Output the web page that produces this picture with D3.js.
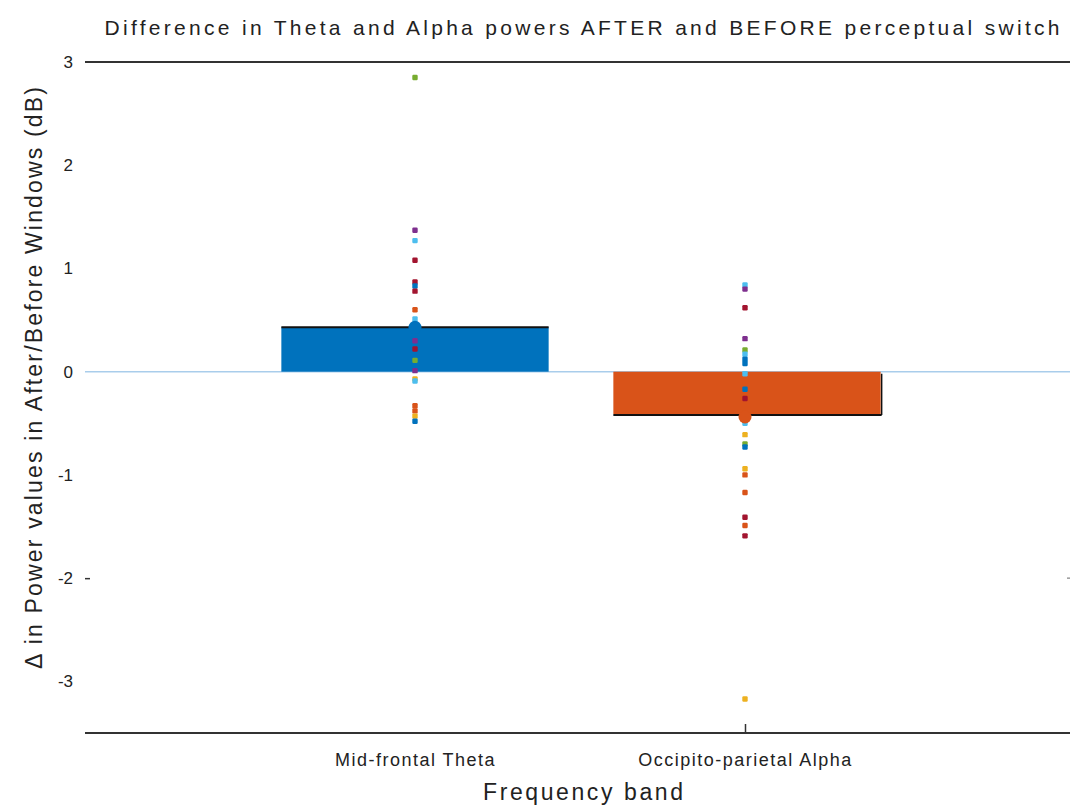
<!DOCTYPE html>
<html>
<head>
<meta charset="utf-8">
<script src="https://cdn.jsdelivr.net/npm/d3@7"></script>
<style>
  body { margin: 0; background: #fff; }
  text { font-family: "Liberation Sans", Arial, sans-serif; fill: #222; }
</style>
</head>
<body>
<svg id="chart"></svg>
<script>
// data
const categories = ["Mid-frontal Theta", "Occipito-parietal Alpha"];
const meanValues = [0.43, -0.41];
const yTicks = [-3, -2, -1, 0, 1, 2, 3];

// single subjects, with their subject index (colour in the cycle)
const thetaValues   = [2.85, 1.37, 1.27, 1.08, 0.87, 0.83, 0.78, 0.60, 0.51, 0.30, 0.22, 0.11, 0.01, -0.07, -0.09, -0.33, -0.38, -0.43, -0.48];
const thetaSubjects = [4, 3, 5, 6, 6, 0, 6, 1, 5, 3, 6, 4, 3, 2, 5, 1, 1, 2, 0];
const alphaValues   = [0.84, 0.80, 0.62, 0.32, 0.21, 0.17, 0.12, 0.08, -0.02, -0.17, -0.26, -0.50, -0.61, -0.70, -0.73, -0.94, -1.00, -1.17, -1.41, -1.49, -1.59, -3.17];
const alphaSubjects = [5, 3, 6, 3, 4, 5, 0, 0, 5, 0, 6, 5, 2, 4, 0, 2, 1, 1, 6, 1, 6, 2];

const palette = ["#0072BD", "#D95319", "#EDB120", "#7E2F8E", "#77AC30", "#4DBEEE", "#A2142F"];

var width = 1070, height = 805;
var plotLeft = 85, plotRight = 1075, plotTop = 62, plotBottom = 733;

var svg = d3.select("#chart").attr("width", width).attr("height", height);

var x = d3.scaleLinear().domain([0, 3]).range([plotLeft, plotRight]);
var y = d3.scaleLinear().domain([-3.5, 3]).range([plotBottom, plotTop]);
var colour = d3.scaleOrdinal().domain(d3.range(7)).range(palette);
var barColour = [palette[0], palette[1]];
var barW = x(0.81) - x(0);

// zero line
svg.append("line")
  .attr("x1", plotLeft).attr("x2", plotRight)
  .attr("y1", y(0)).attr("y2", y(0))
  .attr("stroke", "#a9cdeb").attr("stroke-width", 1.5);

// bars
var bars = svg.selectAll(".bar").data(meanValues).enter();
bars.append("rect")
  .attr("x", function(d, i) { return x(i + 1) - barW / 2 + (d < 0 ? 2 : 0); })
  .attr("y", function(d) { return y(Math.max(d, 0)); })
  .attr("width", barW)
  .attr("height", function(d) { return Math.abs(y(d) - y(0)); })
  .attr("fill", function(d, i) { return barColour[i]; });
// dark edge at the end of each bar
bars.append("line")
  .attr("x1", function(d, i) { return x(i + 1) - barW / 2 + (d < 0 ? 2 : 0); })
  .attr("x2", function(d, i) { return x(i + 1) + barW / 2 + (d < 0 ? 3 : 0); })
  .attr("y1", function(d) { return y(d) + (d > 0 ? 0 : 1); })
  .attr("y2", function(d) { return y(d) + (d > 0 ? 0 : 1); })
  .attr("stroke", "#111").attr("stroke-width", 2);
svg.selectAll(".edge").data(meanValues.filter(function(d) { return d < 0; })).enter()
  .append("line")
  .attr("x1", x(2) + barW / 2 + 3)
  .attr("x2", x(2) + barW / 2 + 3)
  .attr("y1", y(0) + 2)
  .attr("y2", function(d) { return y(d) + 1; })
  .attr("stroke", "#111").attr("stroke-width", 1.5);

// single-subject dots
function dots(values, subjects, pos) {
  svg.append("g").selectAll("rect")
    .data(values)
    .enter()
    .append("rect")
    .attr("x", x(pos) - 2.7)
    .attr("y", function(d) { return y(d) - 2.7; })
    .attr("width", 5.4).attr("height", 5.4)
    .attr("rx", 1.2)
    .attr("fill", function(d, i) { return colour(subjects[i]); });
}
dots(thetaValues, thetaSubjects, 1);
dots(alphaValues, alphaSubjects, 2);

// mean markers
svg.selectAll(".mean").data(meanValues).enter()
  .append("circle")
  .attr("cx", function(d, i) { return x(i + 1); })
  .attr("cy", function(d) { return y(d) + (d > 0 ? 0 : 3); })
  .attr("r", 6.5)
  .attr("fill", function(d, i) { return barColour[i]; });

// frame lines
svg.append("line")
  .attr("x1", plotLeft).attr("x2", width)
  .attr("y1", plotTop).attr("y2", plotTop)
  .attr("stroke", "#333").attr("stroke-width", 2);

var xAxis = svg.append("g")
  .attr("transform", "translate(0," + plotBottom + ")")
  .call(d3.axisBottom(x).tickValues([1, 2]).tickSize(-9).tickSizeOuter(0)
    .tickFormat(function(d) { return categories[d - 1]; }));
xAxis.select(".domain").attr("stroke", "#333").attr("stroke-width", 2)
  .attr("d", "M" + plotLeft + ",0H" + width);
xAxis.selectAll(".tick line").attr("stroke", "#333").attr("stroke-width", 1.5)
  .filter(function(d) { return d === 1; }).remove();
xAxis.selectAll(".tick text")
  .attr("y", 20).attr("font-size", 18).attr("letter-spacing", 1.5)
  .attr("fill", "#222").style("font-family", "'Liberation Sans', Arial, sans-serif");

var yAxis = svg.append("g")
  .attr("transform", "translate(" + plotLeft + ",0)")
  .call(d3.axisLeft(y).tickValues(yTicks).tickSize(-5).tickPadding(12)
    .tickFormat(function(d) { return String(d); }));
yAxis.select(".domain").remove();
yAxis.selectAll(".tick line").attr("stroke", "#333").attr("stroke-width", 1.5)
  .filter(function(d) { return d !== -2; }).remove();
yAxis.selectAll(".tick text")
  .attr("font-size", 17).attr("fill", "#222")
  .style("font-family", "'Liberation Sans', Arial, sans-serif");

// right edge tick
svg.append("line")
  .attr("x1", width - 3).attr("x2", width)
  .attr("y1", y(-2)).attr("y2", y(-2))
  .attr("stroke", "#999").attr("stroke-width", 1.5);

// title and axis labels
svg.append("text")
  .attr("x", 582).attr("y", 35)
  .attr("text-anchor", "middle")
  .attr("font-size", 21)
  .attr("textLength", 955).attr("lengthAdjust", "spacing")
  .text("Difference in Theta and Alpha powers AFTER and BEFORE perceptual switch");

svg.append("text")
  .attr("x", 583).attr("y", 800)
  .attr("text-anchor", "middle")
  .attr("font-size", 23)
  .attr("textLength", 200).attr("lengthAdjust", "spacing")
  .text("Frequency band");

svg.append("text")
  .attr("transform", "translate(42,378) rotate(-90)")
  .attr("text-anchor", "middle")
  .attr("font-size", 23)
  .attr("textLength", 582).attr("lengthAdjust", "spacing")
  .text("Δ in Power values in After/Before Windows (dB)");
</script>
</body>
</html>
